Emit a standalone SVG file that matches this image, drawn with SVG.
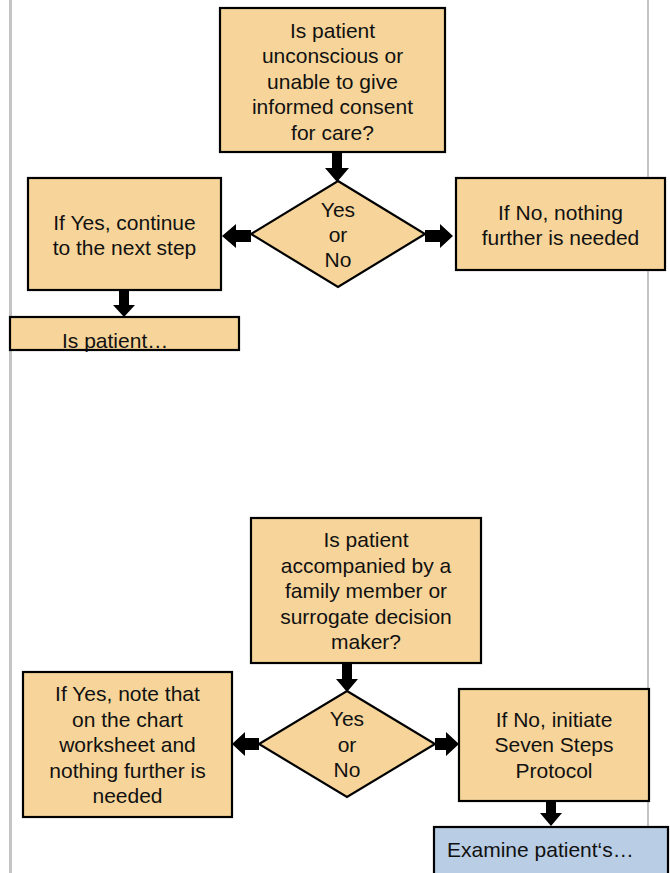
<svg xmlns="http://www.w3.org/2000/svg" width="670" height="873" viewBox="0 0 670 873">
  <style>
    .box { fill: #f7d59a; stroke: #000; stroke-width: 2.2; }
    .next { fill: #b9cde4; stroke: #000; stroke-width: 2.2; }
    .guide { stroke: #c4c4c4; stroke-width: 3; fill: none; }
    .lbl { font-family: "Liberation Sans", Arial, sans-serif; font-size: 21px; fill: #111; text-anchor: middle; }
    .lbl-start { text-anchor: start; }
    .arrow { fill: #000; }
  </style>

  <rect x="0" y="0" width="670" height="873" fill="#ffffff"/>

  <!-- page guide lines -->
  <g id="guides">
    <line class="guide" x1="10.5" y1="0" x2="10.5" y2="873"/>
    <line class="guide" x1="648" y1="0" x2="648" y2="873" style="stroke-width:2"/>
  </g>

  <!-- first decision block -->
  <g id="q-consent">
    <rect class="box" x="220" y="8" width="225" height="144"/>
    <text class="lbl" x="332.5" y="37.5">Is patient</text>
    <text class="lbl" x="332.5" y="63">unconscious or</text>
    <text class="lbl" x="332.5" y="88.5">unable to give</text>
    <text class="lbl" x="332.5" y="114">informed consent</text>
    <text class="lbl" x="332.5" y="139.5">for care?</text>
  </g>

  <g id="d-consent">
    <polygon class="box" points="338,181 425,234 338,287 251,234"/>
    <text class="lbl" x="338" y="217">Yes</text>
    <text class="lbl" x="338" y="242">or</text>
    <text class="lbl" x="338" y="267">No</text>
  </g>

  <g id="yes-continue">
    <rect class="box" x="28" y="178" width="193" height="112"/>
    <text class="lbl" x="124.5" y="230">If Yes, continue</text>
    <text class="lbl" x="124.5" y="255">to the next step</text>
  </g>

  <g id="no-nothing">
    <rect class="box" x="456" y="178" width="209" height="92"/>
    <text class="lbl" x="560.5" y="220">If No, nothing</text>
    <text class="lbl" x="560.5" y="245">further is needed</text>
  </g>

  <g id="is-patient">
    <rect class="box" x="10" y="317" width="229" height="33"/>
    <text class="lbl lbl-start" x="62" y="348">Is patient…</text>
  </g>

  <!-- second decision block -->
  <g id="q-surrogate">
    <rect class="box" x="251" y="518" width="230" height="145"/>
    <text class="lbl" x="366" y="547">Is patient</text>
    <text class="lbl" x="366" y="572.5">accompanied by a</text>
    <text class="lbl" x="366" y="598">family member or</text>
    <text class="lbl" x="366" y="623.5">surrogate decision</text>
    <text class="lbl" x="366" y="649">maker?</text>
  </g>

  <g id="d-surrogate">
    <polygon class="box" points="347,691 435,744 347,797 259,744"/>
    <text class="lbl" x="347" y="726">Yes</text>
    <text class="lbl" x="347" y="751.5">or</text>
    <text class="lbl" x="347" y="777">No</text>
  </g>

  <g id="yes-note">
    <rect class="box" x="23" y="672" width="209" height="145"/>
    <text class="lbl" x="127.5" y="701">If Yes, note that</text>
    <text class="lbl" x="127.5" y="726.5">on the chart</text>
    <text class="lbl" x="127.5" y="752">worksheet and</text>
    <text class="lbl" x="127.5" y="777.5">nothing further is</text>
    <text class="lbl" x="127.5" y="803">needed</text>
  </g>

  <g id="no-protocol">
    <rect class="box" x="459" y="689" width="190" height="112"/>
    <text class="lbl" x="554" y="726.5">If No, initiate</text>
    <text class="lbl" x="554" y="752">Seven Steps</text>
    <text class="lbl" x="554" y="777.5">Protocol</text>
  </g>

  <g id="examine">
    <rect class="next" x="434" y="827" width="234" height="60"/>
    <text class="lbl lbl-start" x="447" y="857">Examine patient‘s…</text>
  </g>

  <!-- block arrows -->
  <g id="connectors">
    <!-- question 1 -> decision 1 -->
    <polygon class="arrow" points="332,152 342,152 342,168 349,168 337,182 325,168 332,168"/>
    <!-- decision 1 -> yes -->
    <polygon class="arrow" points="251,230 236,230 236,224 222,236 236,248 236,242 251,242"/>
    <!-- decision 1 -> no -->
    <polygon class="arrow" points="425,230 440,230 440,224 453,236 440,248 440,242 425,242"/>
    <!-- yes -> next question -->
    <polygon class="arrow" points="119,290 129,290 129,305 135,305 124,317 113,305 119,305"/>
    <!-- question 2 -> decision 2 -->
    <polygon class="arrow" points="342,663 352,663 352,679 358,679 347,692 336,679 342,679"/>
    <!-- decision 2 -> yes -->
    <polygon class="arrow" points="259,738 245,738 245,732 232,744 245,756 245,750 259,750"/>
    <!-- decision 2 -> no -->
    <polygon class="arrow" points="435,738 446,738 446,732 459,744 446,756 446,750 435,750"/>
    <!-- no -> examine -->
    <polygon class="arrow" points="546,801 556,801 556,813 562,813 551,826 540,813 546,813"/>
  </g>
</svg>
